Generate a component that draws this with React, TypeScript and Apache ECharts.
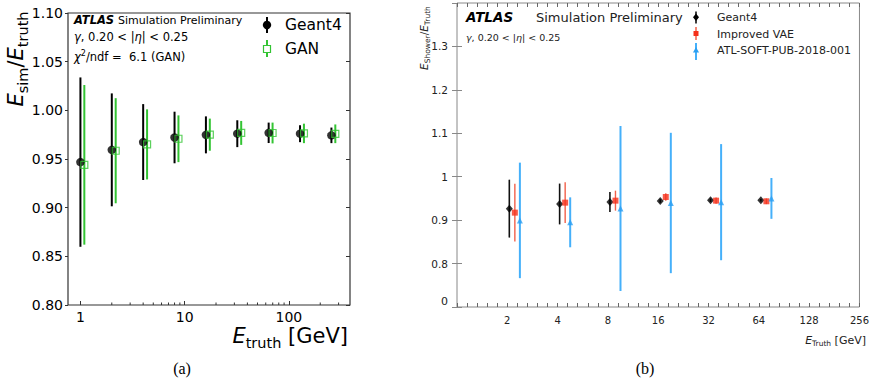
import React, { useEffect, useRef } from "react";
import * as echarts from "echarts";

// ---------- Panel (a) data ----------
const leftEnergies = [1, 2, 4, 8, 16, 32, 64, 128, 256];
const g4Mean = [0.9468, 0.9594, 0.9674, 0.9721, 0.9748, 0.976, 0.9769, 0.976, 0.9743];
const g4Err = [0.087, 0.058, 0.039, 0.0265, 0.019, 0.0138, 0.0105, 0.0087, 0.008];
const ganMean = [0.944, 0.9585, 0.965, 0.9708, 0.975, 0.9768, 0.9767, 0.9763, 0.9759];
const ganErr = [0.082, 0.054, 0.036, 0.024, 0.0165, 0.0123, 0.0107, 0.01, 0.0096];
const ganShift = 1.09;
const leftMinorTicks = [2, 3, 4, 5, 6, 7, 8, 9, 20, 30, 40, 50, 60, 70, 80, 90, 200, 300];

// ---------- Panel (b) data ----------
const rightEnergies = [2, 4, 8, 16, 32, 64];
const rG4Mean = [0.9265, 0.9372, 0.9418, 0.9441, 0.9457, 0.9457];
const rG4Err = [0.0667, 0.047, 0.023, 0.004, 0.004, 0.003];
const vaeMean = [0.9173, 0.9403, 0.9449, 0.9533, 0.9449, 0.9434];
const vaeErr = [0.0663, 0.047, 0.023, 0.0085, 0.007, 0.0065];
const pubMean = [0.8994, 0.895, 0.9268, 0.9395, 0.9414, 0.95];
const pubErr = [0.133, 0.0575, 0.19, 0.1616, 0.1337, 0.047];
const shiftG4 = 0.04;
const shiftVae = 0.15;
const shiftPub = 0.25;
const rightYTickLabels = ["0", "0.8", "0.9", "1", "1.1", "1.2", "1.3", ""];

const FONT = "DejaVu Sans";
const GREEN = "#33c433";
const RED = "#f5301a";
const RED_BAR = "#f2604a";
const BLUE = "#2a9ff2";
const BLUE_BAR = "#45b0fa";

function errorBars(name: string, xs: number[], means: number[], errs: number[], color: string, width: number, xi: number, yi: number) {
  return {
    name,
    type: "custom",
    xAxisIndex: xi,
    yAxisIndex: yi,
    z: 2,
    encode: { x: 0, y: [1, 2] },
    data: xs.map((x, i) => [x, means[i] - errs[i], means[i] + errs[i]]),
    renderItem: (_p: any, api: any) => {
      const a = api.coord([api.value(0), api.value(1)]);
      const b = api.coord([api.value(0), api.value(2)]);
      return {
        type: "line",
        shape: { x1: a[0], y1: a[1], x2: b[0], y2: b[1] },
        style: { stroke: color, lineWidth: width },
      };
    },
  };
}

export default function App() {
  const ref = useRef<HTMLDivElement>(null);
  useEffect(() => {
    document.body.style.margin = "0";
    const chart = echarts.init(ref.current!, null, { renderer: "svg" });
    const log2 = (v: number) => Math.log2(v);
    const option: any = {
      animation: false,
      grid: [
        { left: 68, top: 13, width: 282, height: 292, show: true, borderColor: "#333", borderWidth: 1.2, backgroundColor: "transparent" },
        { left: 457, top: 3, width: 409, height: 304, show: true, borderColor: "#888", borderWidth: 1, backgroundColor: "transparent" },
      ],
      xAxis: [
        {
          gridIndex: 0, type: "log", logBase: 10, min: 0.76, max: 386,
          axisLine: { show: false }, splitLine: { show: false },
          axisTick: { inside: true, length: 4, lineStyle: { color: "#333", width: 1 } },
          axisLabel: { margin: 5, fontFamily: FONT, fontSize: 14, color: "#000", showMinLabel: false, showMaxLabel: false, formatter: (v: number) => String(Math.round(v)) },
        },
        {
          gridIndex: 1, type: "value", min: 0, max: 8, interval: 1,
          axisLine: { show: false }, splitLine: { show: false },
          axisTick: { inside: true, length: 4, lineStyle: { color: "#666" } },
          minorTick: { show: true, splitNumber: 5, length: 4, lineStyle: { color: "#666" } },
          minorSplitLine: { show: false },
          axisLabel: { margin: 8, fontFamily: FONT, fontSize: 10, color: "#222", showMinLabel: false, showMaxLabel: true, formatter: (v: number) => (v === 0 ? "" : String(Math.round(Math.pow(2, v)))) },
        },
        {
          gridIndex: 1, type: "value", min: 0, max: 8, interval: 1, position: "top",
          axisLine: { show: false }, splitLine: { show: false },
          axisTick: { inside: true, length: 4, lineStyle: { color: "#666" } },
          minorTick: { show: true, splitNumber: 5, length: 4, lineStyle: { color: "#666" } },
          axisLabel: { show: false },
        },
      ],
      yAxis: [
        {
          gridIndex: 0, type: "value", min: 0.8, max: 1.1, interval: 0.05,
          axisLine: { show: false }, splitLine: { show: false },
          axisTick: { inside: false, length: 3, lineStyle: { color: "#333" } },
          axisLabel: { margin: 5, fontFamily: FONT, fontSize: 14, color: "#000", showMinLabel: true, showMaxLabel: true, formatter: (v: number) => v.toFixed(2) },
        },
        {
          gridIndex: 0, type: "value", min: 0.8, max: 1.1, interval: 0.05, position: "right",
          axisLine: { show: false }, splitLine: { show: false },
          axisTick: { inside: true, length: 4, lineStyle: { color: "#333" } },
          axisLabel: { show: false },
        },
        {
          gridIndex: 1, type: "value", min: 0.7, max: 1.4, interval: 0.1,
          axisLine: { show: false }, splitLine: { show: false },
          axisTick: { inside: true, length: 5, lineStyle: { color: "#888" } },
          axisLabel: {
            margin: 9, fontFamily: FONT, fontSize: 10.5, color: "#222", showMaxLabel: false,
            formatter: (v: number) => {
              const idx = Math.round((v - 0.7) * 10);
              return idx <= 0 ? "" : rightYTickLabels[idx] || "";
            },
          },
        },
        {
          gridIndex: 1, type: "value", min: 0.7, max: 1.4, interval: 0.1, position: "right",
          axisLine: { show: false }, splitLine: { show: false },
          axisTick: { inside: true, length: 5, lineStyle: { color: "#888" } },
          axisLabel: { show: false },
        },
      ],
      series: [
        {
          type: "custom", xAxisIndex: 0, yAxisIndex: 0, z: 1, silent: true,
          encode: { x: 0, y: 1 },
          data: leftMinorTicks.map((v) => [v, 0.8]),
          renderItem: (_p: any, api: any) => {
            const p = api.coord([api.value(0), api.value(1)]);
            return { type: "line", shape: { x1: p[0], y1: p[1], x2: p[0], y2: p[1] - 2.5 }, style: { stroke: "#333", lineWidth: 1 } };
          },
        },
        errorBars("Geant4 err", leftEnergies, g4Mean, g4Err, "#000", 2, 0, 0),
        errorBars("GAN err", leftEnergies.map((e) => e * ganShift), ganMean, ganErr, GREEN, 2, 0, 0),
        {
          name: "Geant4", type: "scatter", xAxisIndex: 0, yAxisIndex: 0, z: 3,
          symbol: "circle", symbolSize: 8.5, itemStyle: { color: "#000" },
          data: leftEnergies.map((e, i) => [e, g4Mean[i]]),
        },
        {
          name: "GAN", type: "scatter", xAxisIndex: 0, yAxisIndex: 0, z: 3,
          symbol: "rect", symbolSize: 7, itemStyle: { color: "rgba(255,255,255,0)", borderColor: GREEN, borderWidth: 1.2 },
          data: leftEnergies.map((e, i) => [e * ganShift, ganMean[i]]),
        },
        errorBars("G4b err", rightEnergies.map((e) => log2(e) + shiftG4), rG4Mean, rG4Err, "#111", 1.6, 1, 2),
        errorBars("VAE err", rightEnergies.map((e) => log2(e) + shiftVae), vaeMean, vaeErr, RED_BAR, 1.4, 1, 2),
        errorBars("PUB err", rightEnergies.map((e) => log2(e) + shiftPub), pubMean, pubErr, BLUE_BAR, 2, 1, 2),
        {
          name: "Geant4 (b)", type: "scatter", xAxisIndex: 1, yAxisIndex: 2, z: 3,
          symbol: "diamond", symbolSize: [7, 8], itemStyle: { color: "#000" },
          data: rightEnergies.map((e, i) => [log2(e) + shiftG4, rG4Mean[i]]),
        },
        {
          name: "Improved VAE", type: "scatter", xAxisIndex: 1, yAxisIndex: 2, z: 3,
          symbol: "rect", symbolSize: 6, itemStyle: { color: RED },
          data: rightEnergies.map((e, i) => [log2(e) + shiftVae, vaeMean[i]]),
        },
        {
          name: "ATL-SOFT-PUB-2018-001", type: "scatter", xAxisIndex: 1, yAxisIndex: 2, z: 3,
          symbol: "triangle", symbolSize: [6, 6], itemStyle: { color: BLUE },
          data: rightEnergies.map((e, i) => [log2(e) + shiftPub, pubMean[i]]),
        },
      ],
      graphic: {
        elements: [
          // Panel (a) texts
          { type: "text", x: 74, y: 20, style: { text: "ATLAS", font: `italic bold 11.5px "${FONT}"`, fill: "#000", verticalAlign: "middle" } },
          { type: "text", x: 118, y: 20, style: { text: "Simulation Preliminary", font: `11px "${FONT}"`, fill: "#000", verticalAlign: "middle" } },
          {
            type: "text", x: 74, y: 37,
            style: {
              text: "{i|γ}, 0.20 < |{i|η}| < 0.25", font: `11.5px "${FONT}"`, fill: "#000", verticalAlign: "middle",
              rich: { i: { fontStyle: "italic", fontFamily: FONT, fontSize: 11.5 } },
            },
          },
          {
            type: "text", x: 74, y: 57,
            style: {
              text: "{i|χ}{s|2}/ndf =  6.1 (GAN)", font: `11.5px "${FONT}"`, fill: "#000", verticalAlign: "middle",
              rich: { i: { fontStyle: "italic", fontFamily: FONT, fontSize: 11.5, lineHeight: 16 }, s: { fontFamily: FONT, fontSize: 8, verticalAlign: "top", lineHeight: 10 } },
            },
          },
          // Panel (a) legend
          { type: "line", shape: { x1: 267, y1: 17, x2: 267, y2: 33 }, style: { stroke: "#000", lineWidth: 2 } },
          { type: "circle", shape: { cx: 267, cy: 25, r: 4.2 }, style: { fill: "#000" } },
          { type: "text", x: 285, y: 25, style: { text: "Geant4", font: `15.5px "${FONT}"`, fill: "#000", verticalAlign: "middle" } },
          { type: "line", shape: { x1: 267, y1: 40, x2: 267, y2: 57 }, style: { stroke: GREEN, lineWidth: 2 } },
          { type: "rect", shape: { x: 263.5, y: 45.5, width: 7, height: 7 }, style: { fill: "#fff", stroke: GREEN, lineWidth: 1.2 } },
          { type: "text", x: 285, y: 49, style: { text: "GAN", font: `15.5px "${FONT}"`, fill: "#000", verticalAlign: "middle" } },
          // Panel (a) axis titles
          {
            type: "text", x: 16, y: 59, rotation: Math.PI / 2,
            style: {
              text: "{e|E}{s|sim}{n|/}{e|E}{s|truth}", align: "center", verticalAlign: "middle", fill: "#000",
              rich: {
                e: { fontFamily: FONT, fontStyle: "italic", fontSize: 21, lineHeight: 28 },
                n: { fontFamily: FONT, fontSize: 21, lineHeight: 28 },
                s: { fontFamily: FONT, fontSize: 14.5, lineHeight: 15, verticalAlign: "bottom" },
              },
            },
          },
          {
            type: "text", x: 348, y: 336,
            style: {
              text: "{e|E}{s|truth}{n| [GeV]}", align: "right", verticalAlign: "middle", fill: "#000",
              rich: {
                e: { fontFamily: FONT, fontStyle: "italic", fontSize: 21, lineHeight: 28 },
                n: { fontFamily: FONT, fontSize: 21, lineHeight: 28 },
                s: { fontFamily: FONT, fontSize: 14.5, lineHeight: 15, verticalAlign: "bottom" },
              },
            },
          },
          // Panel (b) texts
          { type: "text", x: 466, y: 17, style: { text: "ATLAS", font: `italic bold 13.5px "${FONT}"`, fill: "#000", verticalAlign: "middle" } },
          { type: "text", x: 536, y: 17, style: { text: "Simulation Preliminary", font: `13px "${FONT}"`, fill: "#222", verticalAlign: "middle" } },
          {
            type: "text", x: 466, y: 37,
            style: {
              text: "{i|γ}, 0.20 < |{i|η}| < 0.25", font: `9.5px "${FONT}"`, fill: "#222", verticalAlign: "middle",
              rich: { i: { fontStyle: "italic", fontFamily: FONT, fontSize: 9.5 } },
            },
          },
          // Panel (b) bottom tick label (drawn separately, slightly above the corner)
          {
            type: "text", left: 441, top: 296, z: 100,
            style: { text: rightYTickLabels[0], fontSize: 11, fontFamily: FONT, fill: "#222" },
          },
          // Panel (b) legend
          { type: "line", shape: { x1: 696, y1: 11.5, x2: 696, y2: 23.5 }, style: { stroke: "#000", lineWidth: 1.5 } },
          { type: "polygon", shape: { points: [[696, 13.5], [699, 17.3], [696, 21.1], [693, 17.3]] }, style: { fill: "#000" } },
          { type: "text", x: 717, y: 17.3, style: { text: "Geant4", font: `11px "${FONT}"`, fill: "#222", verticalAlign: "middle" } },
          { type: "line", shape: { x1: 696, y1: 27, x2: 696, y2: 40 }, style: { stroke: RED_BAR, lineWidth: 1.5 } },
          { type: "rect", shape: { x: 693.5, y: 31, width: 5, height: 5 }, style: { fill: RED } },
          { type: "text", x: 717, y: 34, style: { text: "Improved VAE", font: `11px "${FONT}"`, fill: "#222", verticalAlign: "middle" } },
          { type: "line", shape: { x1: 696, y1: 43, x2: 696, y2: 60 }, style: { stroke: BLUE_BAR, lineWidth: 2 } },
          { type: "polygon", shape: { points: [[696, 47], [699, 52.5], [693, 52.5]] }, style: { fill: BLUE } },
          { type: "text", x: 717, y: 50.3, style: { text: "ATL-SOFT-PUB-2018-001", font: `11px "${FONT}"`, fill: "#222", verticalAlign: "middle" } },
          // Panel (b) axis titles
          {
            type: "text", x: 424, y: 38, rotation: Math.PI / 2,
            style: {
              text: "{e|E}{s|Shower}{n|/}{e|E}{s|Truth}", align: "center", verticalAlign: "middle", fill: "#222",
              rich: {
                e: { fontFamily: FONT, fontStyle: "italic", fontSize: 10.5, lineHeight: 14 },
                n: { fontFamily: FONT, fontSize: 10.5, lineHeight: 14 },
                s: { fontFamily: FONT, fontSize: 7.5, lineHeight: 8, verticalAlign: "bottom" },
              },
            },
          },
          {
            type: "text", x: 866, y: 340,
            style: {
              text: "{e|E}{s|Truth}{n| [GeV]}", align: "right", verticalAlign: "middle", fill: "#222",
              rich: {
                e: { fontFamily: FONT, fontStyle: "italic", fontSize: 11, lineHeight: 14 },
                n: { fontFamily: FONT, fontSize: 11, lineHeight: 14 },
                s: { fontFamily: FONT, fontSize: 7.5, lineHeight: 8, verticalAlign: "bottom" },
              },
            },
          },
          // Captions
          { type: "text", x: 182, y: 368, style: { text: "(a)", font: `16px "Liberation Serif"`, fill: "#000", align: "center", verticalAlign: "middle" } },
          { type: "text", x: 645, y: 368, style: { text: "(b)", font: `16px "Liberation Serif"`, fill: "#000", align: "center", verticalAlign: "middle" } },
        ],
      },
    };
    chart.setOption(option);
    return () => chart.dispose();
  }, []);
  return <div ref={ref} style={{ width: 872, height: 380 }} />;
}
